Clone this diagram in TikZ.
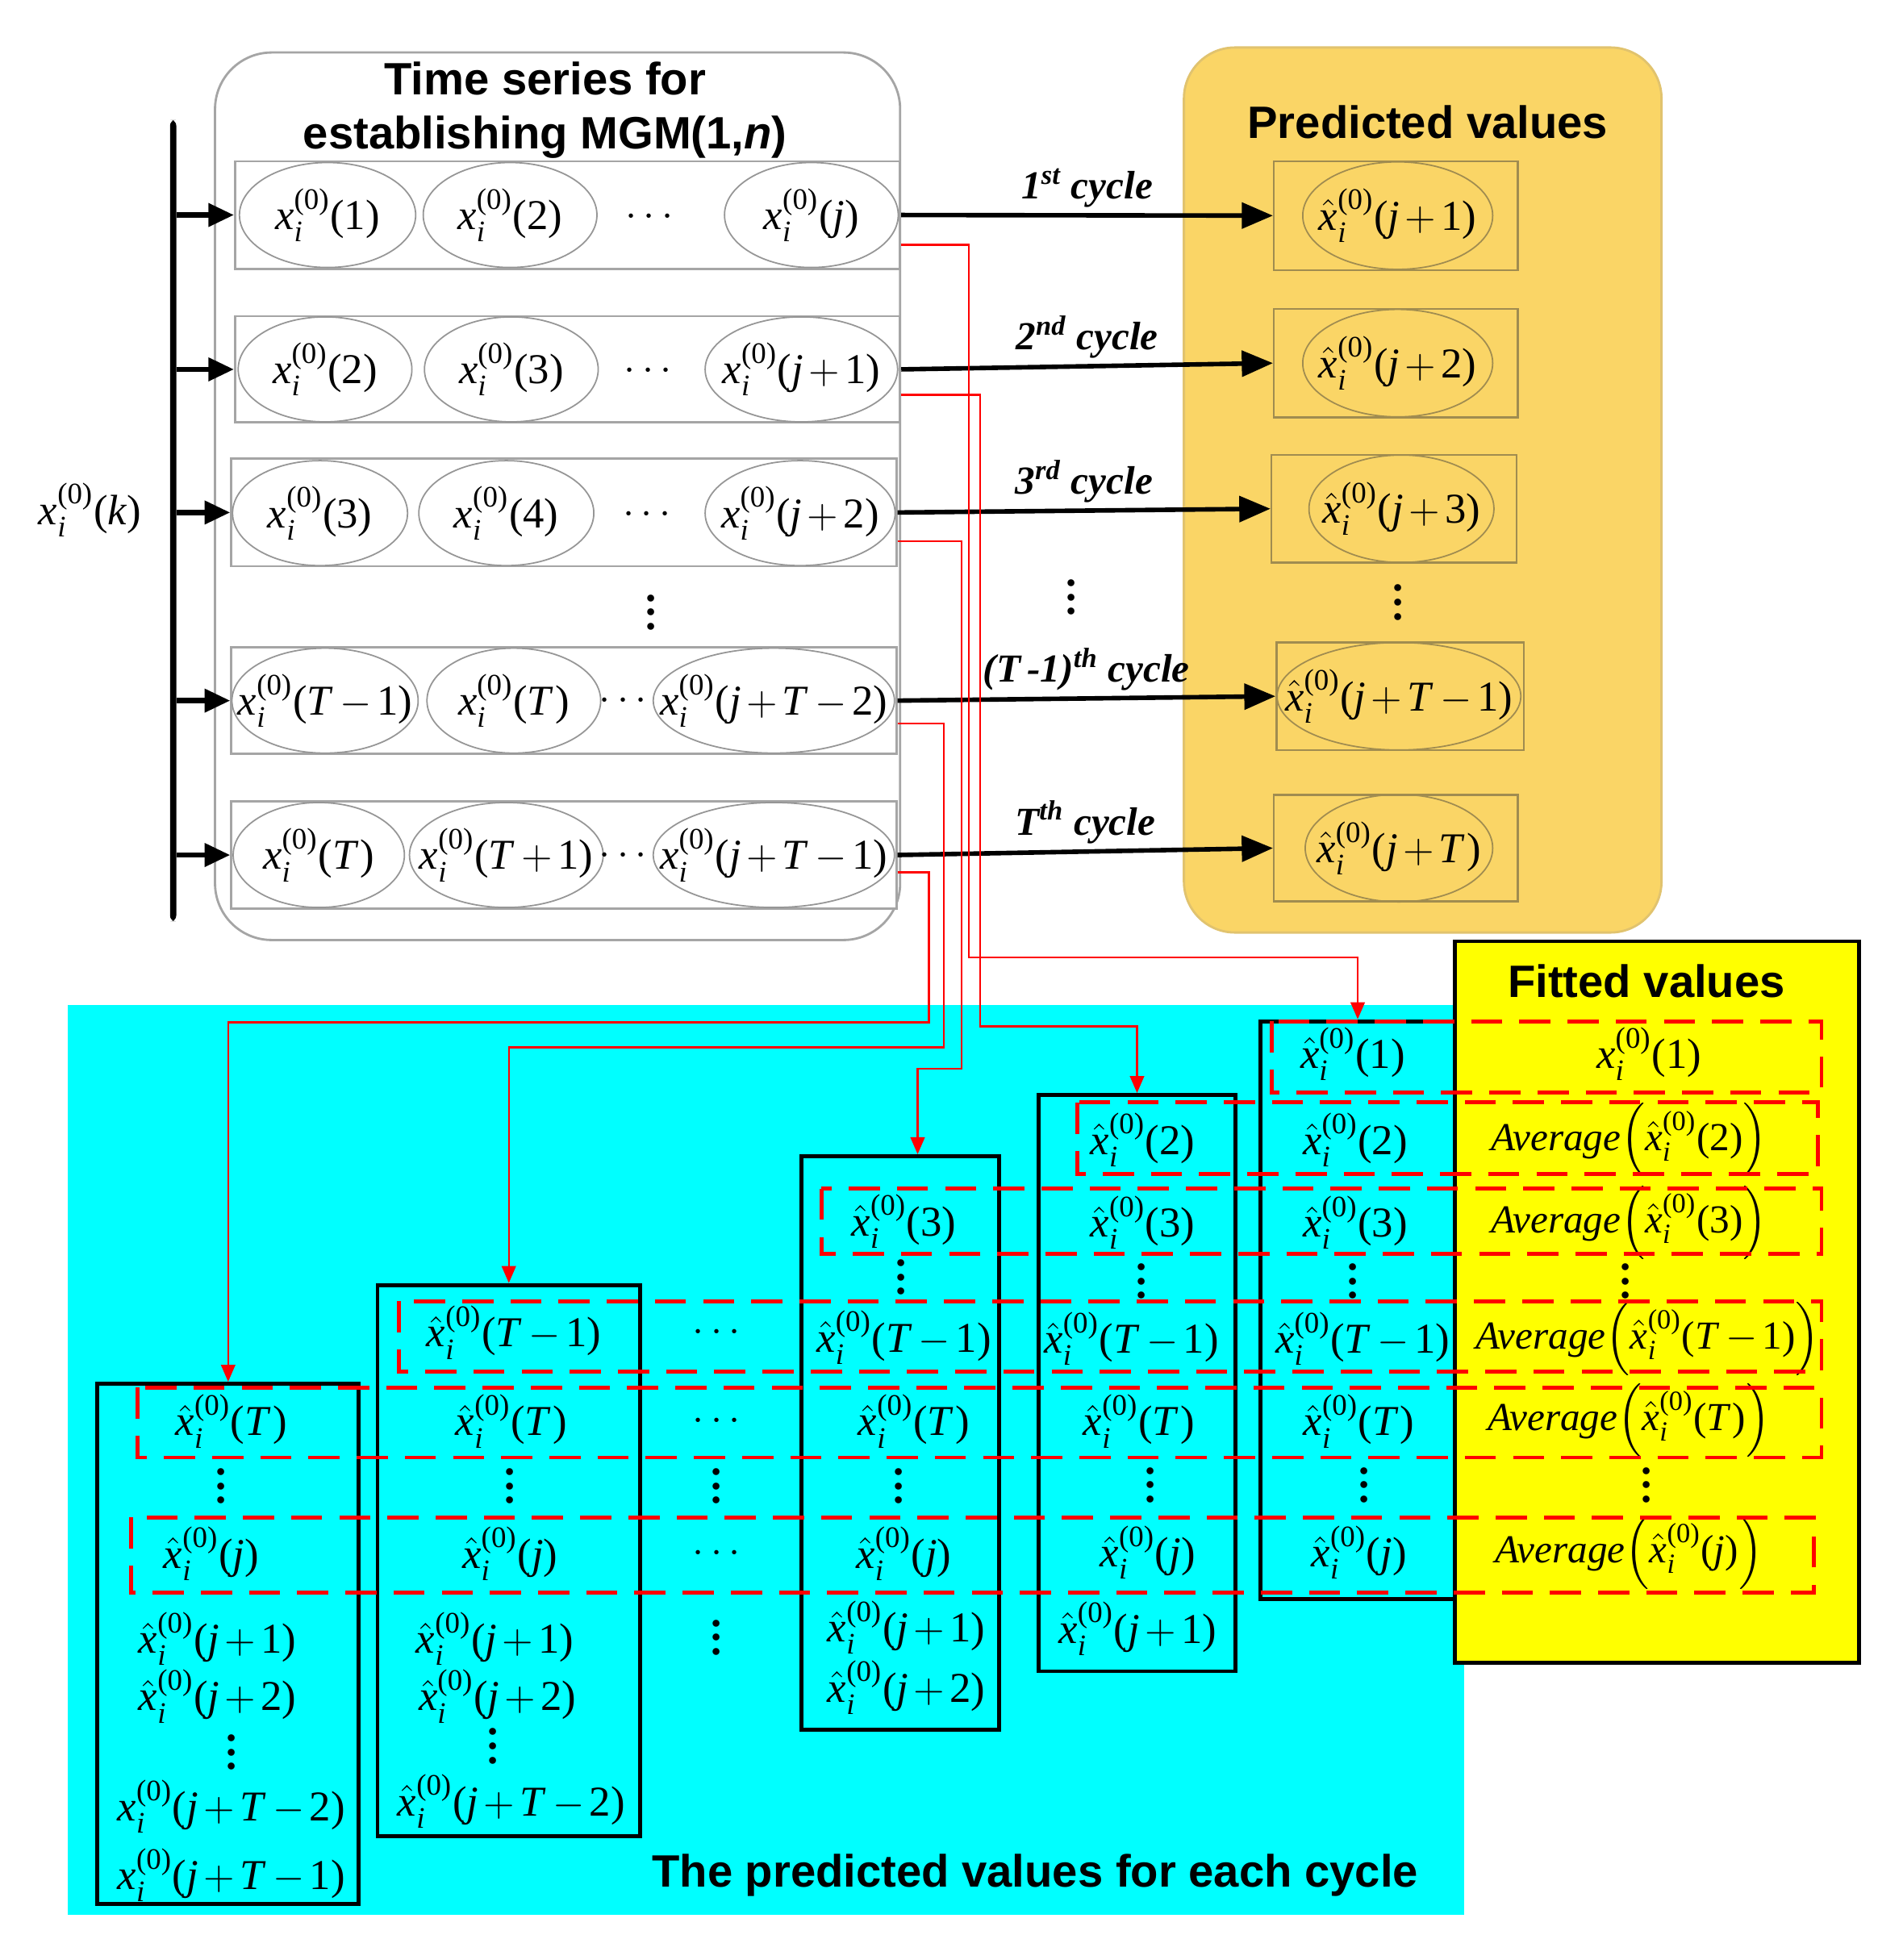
\documentclass[tikz,border=0pt]{standalone}
\usepackage{amsmath}
\usepackage{fontspec}
\setmainfont{Liberation Serif}
\setsansfont{Liberation Sans}
\usetikzlibrary{shapes.geometric,arrows.meta,calc,fit}
\definecolor{graybd}{RGB}{165,165,165}
\definecolor{ellbd}{RGB}{150,150,150}
\definecolor{gold}{RGB}{250,213,102}
\definecolor{goldedge}{RGB}{225,195,110}
\definecolor{goldinner}{RGB}{160,140,80}
\definecolor{cyanbg}{RGB}{0,255,255}
\definecolor{yel}{RGB}{255,255,0}
\newcommand\vx{\textit{x}}
\newcommand\vj{\textit{j}}
\newcommand\vT{\textit{T}\kern0.04em}
\newcommand\vk{\textit{k}}
\newcommand\pl{\kern0.12em$+$\kern0.12em}
\newcommand\mi{\kern0.12em$-$\kern0.12em}
\newcommand\xo[1]{$\vx_{\textit{i}}^{\text{(0)}}\text{(#1)}$}
\newcommand\xh[1]{$\hat{\vx}_{\textit{i}}^{\text{(0)}}\text{(#1)}$}
\newcommand\avg[1]{$\text{\itshape Average}\!\left(\hat{\vx}_{\textit{i}}^{\text{(0)}}\text{(#1)}\right)$}
\newcommand\vdt{\vbox{\baselineskip5pt\lineskiplimit0pt\hbox{.}\hbox{.}\hbox{.}}}
\tikzset{
  mth/.style={font=\fontsize{15}{18}\selectfont, inner sep=1pt},
  vd/.style={font=\fontsize{15}{18}\selectfont\bfseries, inner sep=0pt},
  avgf/.style={font=\fontsize{14}{17}\selectfont, inner sep=0pt},
  ttl/.style={font=\fontsize{16}{19}\selectfont\sffamily\bfseries},
  lbl/.style={font=\fontsize{14}{16}\selectfont\bfseries\itshape, inner sep=1pt},
  rowbox/.style={draw=graybd, line width=0.8pt, fill=white, inner sep=0pt},
  ell/.style 2 args={ellipse, draw=ellbd, line width=0.5pt, fill=white, minimum width=#1*0.441pt, minimum height=#2*0.441pt, inner sep=0pt},
  gell/.style 2 args={ellipse, draw=goldinner, line width=0.5pt, minimum width=#1*0.441pt, minimum height=#2*0.441pt, inner sep=0pt},
  prect/.style={draw=goldinner, line width=0.7pt, inner sep=0pt},
  cycarrow/.style={line width=1.6pt, -{Triangle[length=11pt,width=9pt]}},
  feed/.style={line width=1.8pt, -{Triangle[length=9pt,width=8pt]}},
  redln/.style={draw=red, line width=0.7pt, -{Triangle[length=6pt,width=5pt]}},
  colbox/.style={draw=black, line width=1.4pt, inner sep=0pt},
  reddash/.style={draw=red, line width=1.4pt, dash pattern=on 11pt off 6pt}
}
\begin{document}
\begin{tikzpicture}[x=0.0155cm,y=-0.0155cm]
\useasboundingbox (0,0) rectangle (1522,1568);
\fill[white] (0,0) rectangle (1522,1568);

% ---------- cyan region ----------
\node[fit={(54,804)(1171,1532)}, fill=cyanbg, inner sep=0pt] (cyanbox) {};
\node[ttl] (cyantitle) at (828,1500) {The predicted values for each cycle};

% ---------- time series box ----------
\node[fit={(172,42)(720,752)}, draw=graybd, line width=0.8pt, rounded corners=20pt, fill=white, inner sep=0pt] (tsbox) {};
\node[ttl, align=center] (tstitle) at (436,88) {Time series for\\establishing MGM(1,\textit{n})};

\node[rowbox, fit={(188,129)(720,215)}] (r1) {};
\node[rowbox, fit={(188,253)(720,338)}] (r2) {};
\node[rowbox, fit={(185,367)(717,453)}] (r3) {};
\node[rowbox, fit={(185,518)(717,603)}] (r4) {};
\node[rowbox, fit={(185,641)(717,727)}] (r5) {};

\node[ell={141}{84}, label={[mth]center:\xo{1}}] (e11) at (262,172) {};
\node[ell={139}{84}, label={[mth]center:\xo{2}}] (e12) at (408,172) {};
\node[ell={139}{84}, label={[mth]center:\xo{\vj}}] (e13) at (649,172) {};
\node[mth] (d1) at (522,174) {$\cdots$};

\node[ell={139}{84}, label={[mth]center:\xo{2}}] (e21) at (260,295.5) {};
\node[ell={139}{84}, label={[mth]center:\xo{3}}] (e22) at (409,295.5) {};
\node[ell={154}{84}, label={[mth]center:\xo{\vj\pl1}}] (e23) at (641,295.5) {};
\node[mth] (d2) at (521,297) {$\cdots$};

\node[ell={140}{84}, label={[mth]center:\xo{3}}] (e31) at (256,410.5) {};
\node[ell={140}{84}, label={[mth]center:\xo{4}}] (e32) at (405,410.5) {};
\node[ell={152}{84}, label={[mth]center:\xo{\vj\pl2}}] (e33) at (640,410.5) {};
\node[mth] (d3) at (520,412) {$\cdots$};

\node[vd] (dv) at (521,490) {\vdt};

\node[ell={149}{84}, label={[mth]center:\xo{\vT\mi1}}] (e41) at (260,560.5) {};
\node[ell={139}{84}, label={[mth]center:\xo{\vT}}] (e42) at (411,560.5) {};
\node[ell={193}{84}, label={[mth]center:\xo{\vj\pl\vT\mi2}}] (e43) at (619,560.5) {};
\node[mth] (d4) at (501,561) {$\cdots$};

\node[ell={137}{84}, label={[mth]center:\xo{\vT}}] (e51) at (255,684) {};
\node[ell={155}{84}, label={[mth]center:\xo{\vT\pl1}}] (e52) at (405,684) {};
\node[ell={193}{84}, label={[mth]center:\xo{\vj\pl\vT\mi1}}] (e53) at (619,684) {};
\node[mth] (d5) at (501,685) {$\cdots$};

% ---------- input bar ----------
\node[fit={(136,96)(141,737)}, fill=black, rounded corners=2pt, inner sep=0pt] (bar) {};
\node[mth] (xk) at (72,408) {\xo{\vk}};
\draw[feed] (bar.east |- r1.west) -- (r1.west);
\draw[feed] (bar.east |- r2.west) -- (r2.west);
\draw[feed] (bar.east |- r3.west) -- (r3.west);
\draw[feed] (bar.east |- r4.west) -- (r4.west);
\draw[feed] (bar.east |- r5.west) -- (r5.west);

% ---------- predicted values ----------
\node[fit={(947,38)(1329,746)}, fill=gold, draw=goldedge, line width=0.8pt, rounded corners=18pt, inner sep=0pt] (predbox) {};
\node[ttl] (predtitle) at (1142,98) {Predicted values};

\node[prect, fit={(1019,129)(1214,216)}] (p1) {};
\node[prect, fit={(1019,247)(1214,334)}] (p2) {};
\node[prect, fit={(1017,364)(1213,450)}] (p3) {};
\node[prect, fit={(1021,514)(1219,600)}] (p4) {};
\node[prect, fit={(1019,636)(1214,721)}] (p5) {};
\node[gell={152}{86}, label={[mth]center:\xh{\vj\pl1}}] (q1) at (1118,172.5) {};
\node[gell={152}{86}, label={[mth]center:\xh{\vj\pl2}}] (q2) at (1118,290.5) {};
\node[gell={148}{86}, label={[mth]center:\xh{\vj\pl3}}] (q3) at (1121,407) {};
\node[vd] (qd) at (1118,482) {\vdt};
\node[gell={195}{86}, label={[mth]center:\xh{\vj\pl\vT\mi1}}] (q4) at (1119,557) {};
\node[gell={150}{86}, label={[mth]center:\xh{\vj\pl\vT}}] (q5) at (1119,678.5) {};

\draw[cycarrow] (r1.east) -- node[lbl, above=1pt] (l1) {1\textsuperscript{st} cycle} (p1.west);
\draw[cycarrow] (r2.east) -- node[lbl, above=1pt] (l2) {2\textsuperscript{nd} cycle} (p2.west);
\draw[cycarrow] (r3.east) -- node[lbl, above=1pt] (l3) {3\textsuperscript{rd} cycle} (p3.west);
\node[vd] (ld) at (857,478) {\vdt};
\draw[cycarrow] (r4.east) -- node[lbl, above=1pt] (l4) {(T\,-1)\textsuperscript{th} cycle} (p4.west);
\draw[cycarrow] (r5.east) -- node[lbl, above=1pt] (l5) {T\textsuperscript{th} cycle} (p5.west);

% ---------- columns and red connectors ----------
\node[colbox, fit={(78,1107)(287,1523)}] (c1) {};
\node[colbox, fit={(302,1028)(512,1469)}] (c2) {};
\node[colbox, fit={(641,925)(799,1384)}] (c3) {};
\node[colbox, fit={(831,876)(988,1337)}] (c4) {};
\node[colbox, fit={(1008,817)(1164,1279)}] (c5) {};

\draw[redln] ($(r1.south east)+(0,-20)$) -| (775,766) -| (c5.north);
\draw[redln] ($(r2.south east)+(0,-23)$) -| (784,821) -| (c4.north);
\draw[redln] ($(r3.south east)+(0,-21)$) -| (769,855) -| ($(c3.north)+(14,0)$);
\draw[redln] ($(r4.south east)+(0,-25)$) -| (755,838) -| (c2.north);
\draw[redln] ($(r5.south east)+(0,-30)$) -| (743,818) -| (c1.north);

% ---------- fitted values ----------
\node[fit={(1164,753)(1487,1330)}, fill=yel, draw=black, line width=1.4pt, inner sep=0pt] (fitbox) {};
\node[ttl] (fittitle) at (1317,785) {Fitted values};

% column 1
\node[mth] (a1) at (185,1137) {\xh{\vT}};
\node[vd] (a2) at (177,1189) {\vdt};
\node[mth] (a3) at (169,1243) {\xh{\vj}};
\node[mth] (a4) at (174,1311) {\xh{\vj\pl1}};
\node[mth] (a5) at (174,1357) {\xh{\vj\pl2}};
\node[vd] (a6) at (185,1402) {\vdt};
\node[mth] (a7) at (185,1445) {\xo{\vj\pl\vT\mi2}};
\node[mth] (a8) at (185,1500) {\xo{\vj\pl\vT\mi1}};
% column 2
\node[mth] (b1) at (411,1066) {\xh{\vT\mi1}};
\node[mth] (b2) at (409,1137) {\xh{\vT}};
\node[vd] (b3) at (408,1189) {\vdt};
\node[mth] (b4) at (408,1243) {\xh{\vj}};
\node[mth] (b5) at (396,1311) {\xh{\vj\pl1}};
\node[mth] (b6) at (398,1357) {\xh{\vj\pl2}};
\node[vd] (b7) at (394,1397) {\vdt};
\node[mth] (b8) at (409,1441) {\xh{\vj\pl\vT\mi2}};
% middle dots
\node[mth] (m1) at (576,1066) {$\cdots$};
\node[mth] (m2) at (576,1137) {$\cdots$};
\node[vd] (m3) at (573,1189) {\vdt};
\node[mth] (m4) at (576,1243) {$\cdots$};
\node[vd] (m5) at (573,1310) {\vdt};
% column 3
\node[mth] (g1) at (723,977) {\xh{3}};
\node[vd] (g2) at (721,1022) {\vdt};
\node[mth] (g3) at (723,1070) {\xh{\vT\mi1}};
\node[mth] (g4) at (731,1137) {\xh{\vT}};
\node[vd] (g5) at (719,1189) {\vdt};
\node[mth] (g6) at (723,1243) {\xh{\vj}};
\node[mth] (g7) at (725,1302) {\xh{\vj\pl1}};
\node[mth] (g8) at (725,1350) {\xh{\vj\pl2}};
% column 4
\node[mth] (h1) at (914,912) {\xh{2}};
\node[mth] (h2) at (914,978) {\xh{3}};
\node[vd] (h3) at (913,1025) {\vdt};
\node[mth] (h4) at (905,1071) {\xh{\vT\mi1}};
\node[mth] (h5) at (911,1137) {\xh{\vT}};
\node[vd] (h6) at (920,1188) {\vdt};
\node[mth] (h7) at (918,1242) {\xh{\vj}};
\node[mth] (h8) at (910,1303) {\xh{\vj\pl1}};
% column 5
\node[mth] (k1) at (1082,843) {\xh{1}};
\node[mth] (k2) at (1084,912) {\xh{2}};
\node[mth] (k3) at (1084,978) {\xh{3}};
\node[vd] (k4) at (1082,1025) {\vdt};
\node[mth] (k5) at (1090,1071) {\xh{\vT\mi1}};
\node[mth] (k6) at (1087,1137) {\xh{\vT}};
\node[vd] (k7) at (1091,1188) {\vdt};
\node[mth] (k8) at (1087,1242) {\xh{\vj}};
% fitted
\node[mth] (f1) at (1319,843) {\xo{1}};
\node[avgf] (f2) at (1303,912) {\avg{2}};
\node[avgf] (f3) at (1303,978) {\avg{3}};
\node[vd] (f4) at (1300,1025) {\vdt};
\node[avgf] (f5) at (1318,1071) {\avg{\vT\mi1}};
\node[avgf] (f6) at (1303,1136) {\avg{\vT}};
\node[vd] (f7) at (1317,1188) {\vdt};
\node[avgf] (f8) at (1303,1242) {\avg{\vj}};

% ---------- red dashed groups ----------
\draw[reddash] (1017,817) rectangle (1457,874);
\draw[reddash] (862,882) rectangle (1454,939);
\draw[reddash] (657,951) rectangle (1457,1003);
\draw[reddash] (319,1041) rectangle (1457,1097);
\draw[reddash] (110,1110) rectangle (1457,1166);
\draw[reddash] (105,1214) rectangle (1451,1274);
\end{tikzpicture}
\end{document}
